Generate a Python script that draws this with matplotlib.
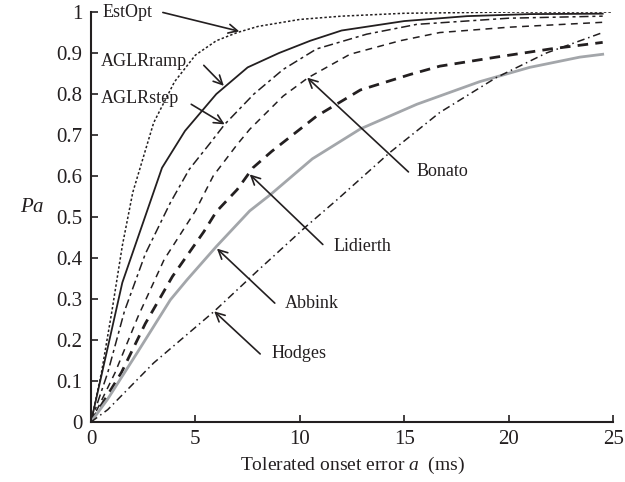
import matplotlib
matplotlib.use("Agg")
import matplotlib.pyplot as plt

plt.rcParams['font.family'] = ['Liberation Serif', 'DejaVu Serif']
plt.rcParams['mathtext.fontset'] = 'custom'
plt.rcParams['mathtext.it'] = 'Liberation Serif:italic'
plt.rcParams['mathtext.rm'] = 'Liberation Serif'

# --- data ---
estopt_a = [0, 0.5, 1, 1.5, 2, 3, 4, 5, 6, 7, 8, 10, 12, 15, 20, 25]
estopt_p = [0, 0.12, 0.27, 0.43, 0.56, 0.73, 0.83, 0.895, 0.93, 0.95, 0.965, 0.982, 0.99, 0.997, 1.0, 1.0]

ramp_a = [0, 1.5, 3.4, 4.5, 6, 7.5, 9, 10.5, 12, 15, 18, 21, 24.5]
ramp_p = [0, 0.34, 0.62, 0.71, 0.80, 0.865, 0.90, 0.93, 0.955, 0.978, 0.99, 0.995, 0.996]

step_a = [0, 0.8, 1.6, 2.6, 3.8, 4.7, 5.7, 6.4, 7.8, 9.2, 10.8, 13.2, 15.6, 20, 24.5]
step_p = [0, 0.12, 0.27, 0.41, 0.535, 0.616, 0.68, 0.726, 0.80, 0.86, 0.91, 0.946, 0.97, 0.985, 0.99]

bonato_a = [0, 1.15, 2.25, 3.5, 5, 5.85, 7, 7.6, 9.2, 10.4, 12.4, 14.8, 16.7, 20, 24.5]
bonato_p = [0, 0.12, 0.257, 0.396, 0.515, 0.6, 0.677, 0.714, 0.795, 0.84, 0.897, 0.93, 0.95, 0.963, 0.975]

lidierth_a = [0, 1.45, 2.6, 3.9, 5.4, 6, 7, 7.75, 8.65, 10.8, 12.9, 15.3, 16.7, 19.4, 22, 24.5]
lidierth_p = [0, 0.12, 0.24, 0.355, 0.464, 0.513, 0.567, 0.62, 0.66, 0.746, 0.81, 0.848, 0.868, 0.89, 0.91, 0.926]

abbink_a = [0, 0.8, 2.25, 3.8, 4.6, 6, 7.6, 8.6, 10.6, 12.9, 15.6, 18.6, 21, 23.4, 24.5]
abbink_p = [0, 0.056, 0.172, 0.298, 0.347, 0.428, 0.515, 0.555, 0.642, 0.715, 0.775, 0.83, 0.865, 0.89, 0.897]

hodges_a = [0, 0.8, 3, 5.9, 8, 10.3, 11.8, 14.3, 16.7, 19.4, 21.8, 24.5]
hodges_p = [0, 0.03, 0.144, 0.27, 0.37, 0.477, 0.543, 0.657, 0.755, 0.84, 0.90, 0.95]

x_ticks = [0, 5, 10, 15, 20, 25]
y_ticks = [0, 0.1, 0.2, 0.3, 0.4, 0.5, 0.6, 0.7, 0.8, 0.9, 1]
y_tick_labels = ['0', '0.1', '0.2', '0.3', '0.4', '0.5', '0.6', '0.7', '0.8', '0.9', '1']

# annotations: label, text position (a, p), arrow start (a, p), arrow tip (a, p)
labels = ['EstOpt', 'AGLRramp', 'AGLRstep', 'Bonato', 'Lidierth', 'Abbink', 'Hodges']
text_pos = [(0.55, 0.999), (0.45, 0.879), (0.45, 0.789), (15.6, 0.61), (11.6, 0.428), (9.3, 0.289), (8.65, 0.166)]
start_pos = [(3.44, 0.999), (5.4, 0.87), (4.8, 0.775), (15.2, 0.61), (11.1, 0.433), (8.8, 0.29), (8.1, 0.166)]
tip_pos = [(7.1, 0.953), (6.36, 0.82), (6.4, 0.726), (10.35, 0.84), (7.6, 0.604), (6.03, 0.423), (5.9, 0.27)]

fig = plt.figure(figsize=(6.25, 4.82), dpi=100)
ax = fig.add_axes([0.1456, 0.1245, 0.8354, 0.8505])

ink = '#231f20'
ax.plot(estopt_a, estopt_p, color=ink, lw=1.1, linestyle=(0, (1.6, 1.4)))
ax.plot(ramp_a, ramp_p, color=ink, lw=1.3, linestyle='-')
ax.plot(step_a, step_p, color=ink, lw=1.1, linestyle=(0, (6, 2.5, 2, 2.5)))
ax.plot(bonato_a, bonato_p, color=ink, lw=1.1, linestyle=(0, (4.5, 3.5)))
ax.plot(lidierth_a, lidierth_p, color=ink, lw=2.0, linestyle=(0, (3.8, 2.6)))
ax.plot(abbink_a, abbink_p, color='#a3a6aa', lw=2.0, linestyle='-')
ax.plot(hodges_a, hodges_p, color=ink, lw=1.1, linestyle=(0, (5, 2.5, 1, 2.5)))

for lab, tp, sp, tip in zip(labels, text_pos, start_pos, tip_pos):
    ax.annotate('', xy=tip, xytext=sp,
                arrowprops=dict(arrowstyle='->', color=ink, lw=1.2,
                                mutation_scale=16, shrinkA=0, shrinkB=0))
    ax.text(tp[0], tp[1], lab, fontsize=13, color=ink, ha='left', va='center')

ax.set_xlim(0, 25)
ax.set_ylim(0, 1)
ax.set_xticks(x_ticks)
ax.set_xticklabels([str(t) for t in x_ticks])
ax.set_yticks(y_ticks)
ax.set_yticklabels(y_tick_labels)
ax.tick_params(direction='in', length=5, width=1.2, labelsize=15, colors=ink, pad=6)
for s in ['top', 'right']:
    ax.spines[s].set_visible(False)
for s in ['left', 'bottom']:
    ax.spines[s].set_linewidth(1.5)
    ax.spines[s].set_color(ink)

ax.set_xlabel(r'Tolerated onset error $a$  (ms)', fontsize=14, color=ink, labelpad=4)
ax.set_ylabel(r'$Pa$', fontsize=15, color=ink, rotation=0)
ax.yaxis.set_label_coords(-0.112, 0.5)

fig.savefig('out.png', dpi=100)
